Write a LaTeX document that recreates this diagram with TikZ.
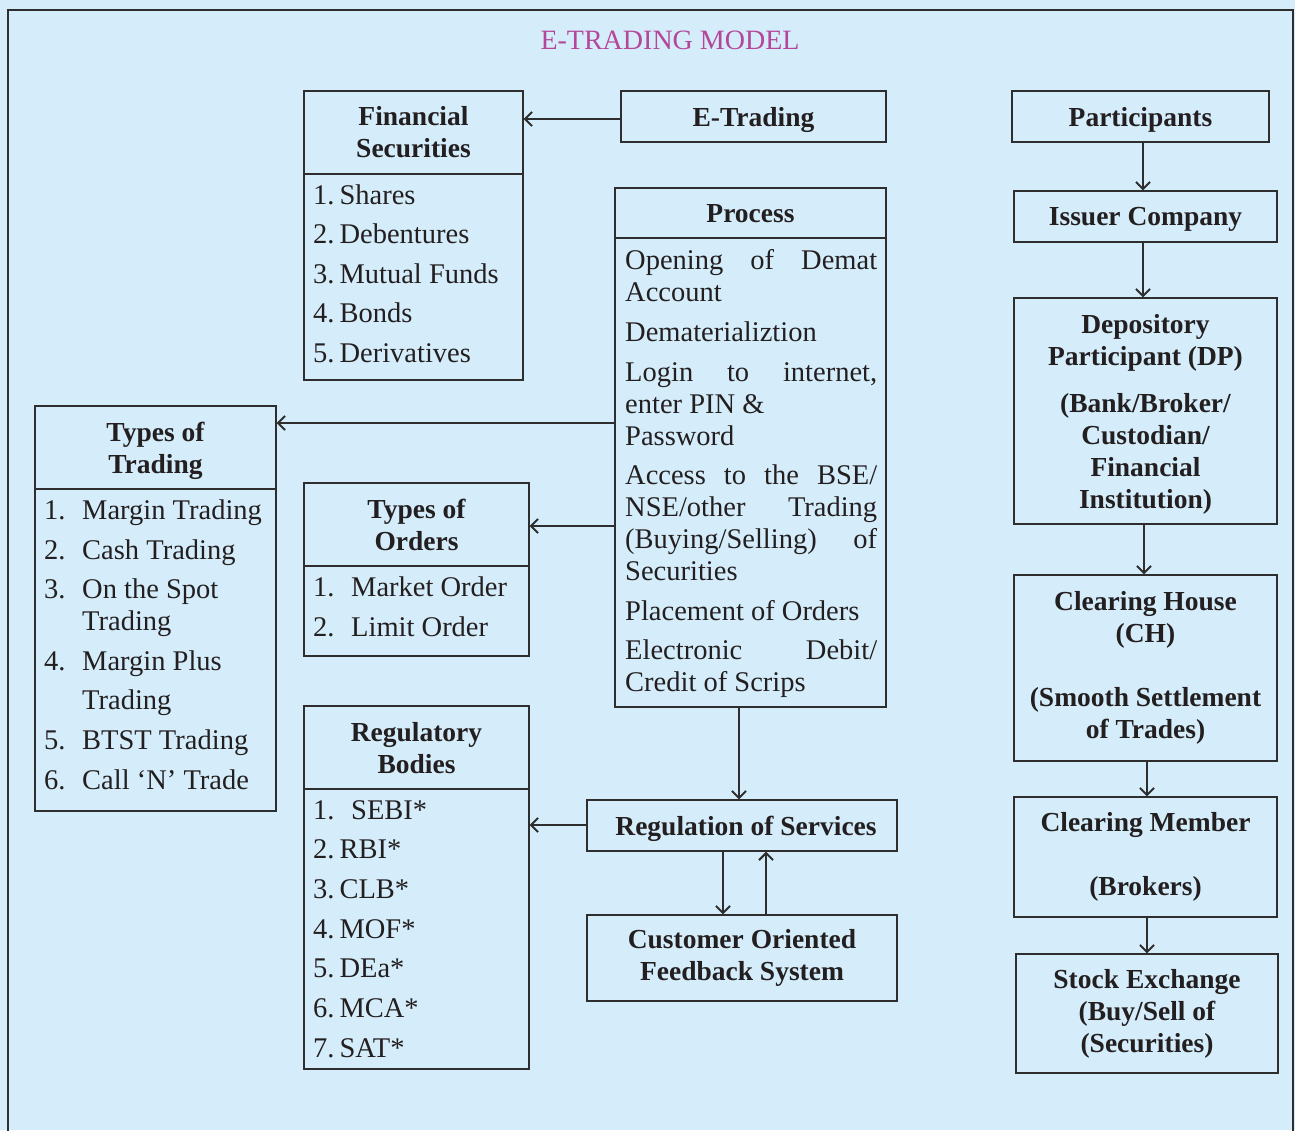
\documentclass[tikz,border=0pt]{standalone}
\usepackage{fontspec}
\setmainfont{Liberation Serif}
\usetikzlibrary{arrows.meta}

\definecolor{bgblue}{HTML}{D5EDFA}
\definecolor{linec}{HTML}{2E2E2E}
\definecolor{txt}{HTML}{231F20}
\definecolor{titlec}{HTML}{B4479A}

\newcommand\hdfont{\fontsize{27.5}{32}\selectfont\bfseries}
\newcommand\bdfont{\fontsize{28.5}{32}\selectfont}
\newcommand\numcol[1]{\makebox[38pt][l]{#1}}
\newcommand\numtight[2]{#1\hspace{5pt}#2}
\newcommand\justline[1]{\makebox[252pt][s]{#1}}

\begin{document}
\begin{tikzpicture}[x=1pt,y=-1pt,
  frame/.style={draw=linec, line width=1.3pt, inner sep=0pt, align=center,
                font=\hdfont, text=txt},
  flat/.style={text depth=0pt},
  item/.style={anchor=base west, inner sep=0pt, font=\bdfont, text=txt},
  arr/.style={draw=linec, line width=2pt,
              -{Straight Barb[length=7pt,width=14pt]}}]

% canvas and outer frame
\useasboundingbox (0,0) rectangle (1295,1130);
\fill[bgblue] (0,0) rectangle (1295,1130);
\draw[linec, line width=1.2pt] (8,10) rectangle (1293,1160);

\node[font=\fontsize{28}{32}\selectfont, text=titlec, inner sep=0pt] (title) at (670,40) {E-TRADING MODEL};

% Financial securities
\node[frame, minimum width=219pt, minimum height=83pt] (fsh) at (413.5,132.5) {Financial\\Securities};
\node[frame, minimum width=219pt, minimum height=206pt] (fsb) at (413.5,277) {};
\node[item] (fs1) at (313,204.5) {\numtight{1.}{Shares}};
\node[item] (fs2) at (313,243.5) {\numtight{2.}{Debentures}};
\node[item] (fs3) at (313,283.5) {\numtight{3.}{Mutual Funds}};
\node[item] (fs4) at (313,322.5) {\numtight{4.}{Bonds}};
\node[item] (fs5) at (313,362.5) {\numtight{5.}{Derivatives}};

% E-Trading
\node[frame, flat, minimum width=265pt, minimum height=51pt] (etr) at (753.5,116.5) {E-Trading};

% Process
\node[frame, flat, minimum width=271pt, minimum height=50pt] (prh) at (750.5,213) {Process};
\node[frame, minimum width=271pt, minimum height=469pt] (prb) at (750.5,472.5) {};
\node[item] (pr1) at (625,269.5) {\justline{Opening of Demat}};
\node[item] (pr2) at (625,301.5) {Account};
\node[item] (pr3) at (625,341.5) {Dematerializtion};
\node[item] (pr4) at (625,381.5) {\justline{Login to internet,}};
\node[item] (pr5) at (625,413.5) {enter PIN \&};
\node[item] (pr6) at (625,445.5) {Password};
\node[item] (pr7) at (625,484.5) {\justline{Access to the BSE/}};
\node[item] (pr8) at (625,516.5) {\justline{NSE/other Trading}};
\node[item] (pr9) at (625,548.5) {\justline{(Buying/Selling) of}};
\node[item] (pr10) at (625,580.5) {Securities};
\node[item] (pr11) at (625,620.5) {Placement of Orders};
\node[item] (pr12) at (625,659.5) {\justline{Electronic Debit/}};
\node[item] (pr13) at (625,691.5) {Credit of Scrips};

% Types of trading
\node[frame, flat, minimum width=241pt, minimum height=83pt] (toth) at (155.5,447.5) {Types of\\Trading};
\node[frame, minimum width=241pt, minimum height=322pt] (totb) at (155.5,650) {};
\node[item] (tt1) at (44,519) {\numcol{1.}Margin Trading};
\node[item] (tt2) at (44,559) {\numcol{2.}Cash Trading};
\node[item] (tt3) at (44,598.5) {\numcol{3.}On the Spot};
\node[item] (tt3b) at (82,630.5) {Trading};
\node[item] (tt4) at (44,670.5) {\numcol{4.}Margin Plus};
\node[item] (tt4b) at (82,709.5) {Trading};
\node[item] (tt5) at (44,749.5) {\numcol{5.}BTST Trading};
\node[item] (tt6) at (44,789.5) {\numcol{6.}Call `N' Trade};

% Types of orders
\node[frame, flat, minimum width=225pt, minimum height=83pt] (toh) at (416.5,524.5) {Types of\\Orders};
\node[frame, minimum width=225pt, minimum height=90pt] (tob) at (416.5,611) {};
\node[item] (to1) at (313,596.5) {\numcol{1.}Market Order};
\node[item] (to2) at (313,636.5) {\numcol{2.}Limit Order};

% Regulatory bodies
\node[frame, flat, minimum width=225pt, minimum height=83pt] (rbh) at (416.5,747.5) {Regulatory\\Bodies};
\node[frame, minimum width=225pt, minimum height=280pt] (rbb) at (416.5,929) {};
\node[item] (rb1) at (313,819.5) {\numcol{1.}SEBI*};
\node[item] (rb2) at (313,858.5) {\numtight{2.}{RBI*}};
\node[item] (rb3) at (313,898.5) {\numtight{3.}{CLB*}};
\node[item] (rb4) at (313,938.5) {\numtight{4.}{MOF*}};
\node[item] (rb5) at (313,977.5) {\numtight{5.}{DEa*}};
\node[item] (rb6) at (313,1017.5) {\numtight{6.}{MCA*}};
\node[item] (rb7) at (313,1057.5) {\numtight{7.}{SAT*}};

% Regulation and feedback
\node[frame, flat, minimum width=310pt, minimum height=51pt] (reg) at (742,825.5) {\hspace{8pt}Regulation of Services};
\node[frame, minimum width=310pt, minimum height=86pt] (cofs) at (742,958) {Customer Oriented\\Feedback System};

% Participants chain
\node[frame, flat, minimum width=257pt, minimum height=51pt] (part) at (1140.5,116.5) {Participants};
\node[frame, flat, minimum width=263pt, minimum height=51pt] (iss) at (1145.5,216.5) {Issuer Company};
\node[frame, flat, minimum width=263pt, minimum height=226pt] (dp) at (1145.5,411)
  {Depository\\Participant (DP)\\[15pt](Bank/Broker/\\Custodian/\\Financial\\Institution)};
\node[frame, minimum width=263pt, minimum height=186pt] (ch) at (1145.5,668)
  {Clearing House\\(CH)\\[32pt](Smooth Settlement\\of Trades)};
\node[frame, minimum width=263pt, minimum height=120pt] (cm) at (1145.5,857)
  {Clearing Member\\[32pt](Brokers)};
\node[frame, minimum width=262pt, minimum height=119pt] (se) at (1147,1013.5)
  {Stock Exchange\\(Buy/Sell of\\(Securities)};

% connectors
\draw[arr] (etr.west |- 0,119) -- (fsh.east |- 0,119);
\draw[arr] (prb.west |- 0,423) -- (toth.east |- 0,423);
\draw[arr] (prb.west |- 0,526) -- (toh.east |- 0,526);
\draw[arr] (prb.south -| 739,0) -- (reg.north -| 739,0);
\draw[arr] (reg.west |- 0,825) -- (rbb.east |- 0,825);
\draw[arr] (reg.south -| 723,0) -- (cofs.north -| 723,0);
\draw[arr] (cofs.north -| 766,0) -- (reg.south -| 766,0);
\draw[arr] (part.south -| 1143,0) -- (iss.north -| 1143,0);
\draw[arr] (iss.south -| 1143,0) -- (dp.north -| 1143,0);
\draw[arr] (dp.south -| 1144,0) -- (ch.north -| 1144,0);
\draw[arr] (ch.south -| 1147,0) -- (cm.north -| 1147,0);
\draw[arr] (cm.south -| 1147,0) -- (se.north -| 1147,0);
\end{tikzpicture}
\end{document}
